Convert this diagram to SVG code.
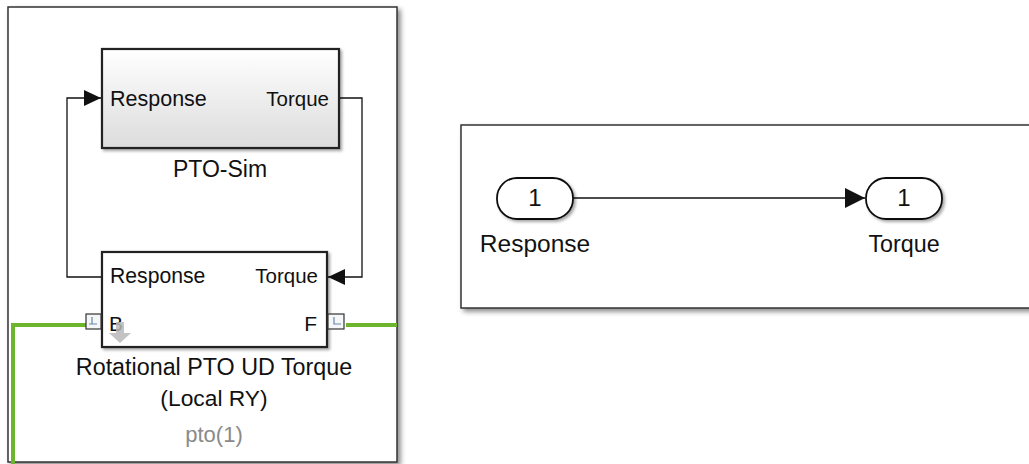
<svg xmlns="http://www.w3.org/2000/svg" width="1029" height="464" viewBox="0 0 1029 464">
<defs>
<style>
text{font-family:"Liberation Sans",Arial,sans-serif;fill:#111}
.panel{fill:#fff;stroke:#333;stroke-width:1.5}
.blk{stroke:#222;stroke-width:2.2}
.wire{fill:none;stroke:#111;stroke-width:1.3}
.green{fill:none;stroke:#6cb52d;stroke-width:4}
.port{fill:#f4f6f8;stroke:#333;stroke-width:1.2}
</style>
<linearGradient id="grad" x1="0" y1="0" x2="0" y2="1">
<stop offset="0" stop-color="#ffffff"/>
<stop offset="1" stop-color="#dcdcdc"/>
</linearGradient>
<filter id="shadow" x="-10%" y="-10%" width="130%" height="130%">
<feDropShadow dx="3" dy="3" stdDeviation="2.5" flood-color="#000" flood-opacity="0.45"/>
</filter>
<filter id="bshadow" x="-10%" y="-10%" width="130%" height="130%">
<feDropShadow dx="2" dy="2" stdDeviation="1.5" flood-color="#000" flood-opacity="0.35"/>
</filter>
<marker id="arrow" viewBox="0 0 10 10" refX="10" refY="5" markerWidth="17" markerHeight="16" markerUnits="userSpaceOnUse" orient="auto" preserveAspectRatio="none">
<path d="M0,0 L10,5 L0,10 Z" fill="#111"/>
</marker>
<marker id="arrowL" viewBox="0 0 10 10" refX="10" refY="5" markerWidth="20" markerHeight="20" markerUnits="userSpaceOnUse" orient="auto" preserveAspectRatio="none">
<path d="M0,0 L10,5 L0,10 Z" fill="#111"/>
</marker>
</defs>
<rect width="1029" height="464" fill="#fff"/>

<g id="left-panel">
<rect class="panel" x="8" y="7" width="389" height="455" filter="url(#shadow)"/>
</g>
<g id="right-panel">
<rect class="panel" x="461" y="125" width="580" height="183" filter="url(#shadow)"/>
</g>

<g id="connectors">
<path class="wire" d="M339,98 H362 V277 H328" marker-end="url(#arrow)"/>
<path class="wire" d="M102,277 H67 V98 H101" marker-end="url(#arrow)"/>
<path class="green" d="M86,325 H13 V464"/>
<path class="green" d="M346,325 H397"/>
<path class="wire" d="M573,198 H865" marker-end="url(#arrowL)"/>
</g>

<g id="pto-sim">
<rect class="blk" x="102" y="49" width="237" height="99" fill="url(#grad)" filter="url(#bshadow)"/>
<text x="110" y="106" font-size="21.5">Response</text>
<text x="329" y="106" font-size="20.5" text-anchor="end">Torque</text>
<text x="220" y="177" font-size="23" text-anchor="middle">PTO-Sim</text>
</g>

<g id="rotational-pto">
<rect class="blk" x="102" y="252" width="225" height="95" fill="#fff" filter="url(#bshadow)"/>
<text x="110" y="283" font-size="21.2">Response</text>
<text x="318" y="283" font-size="20.5" text-anchor="end">Torque</text>
<text x="109" y="331" font-size="21">B</text>
<text x="317" y="331" font-size="21" text-anchor="end">F</text>
<path d="M116,322 H124 V333 H131 L120,343 L109,333 H116 Z" fill="#b8b8b8" opacity="0.85"/>
<rect class="port" x="86" y="314" width="15" height="15"/>
<path d="M92,317 V324 M89,324 H97" stroke="#6a86a8" stroke-width="1.2" fill="none"/>
<rect class="port" x="328" y="314" width="16" height="15"/>
<path d="M334,317 V324 H341" stroke="#6a86a8" stroke-width="1.2" fill="none"/>
<text x="214" y="375" font-size="23.3" text-anchor="middle">Rotational PTO UD Torque</text>
<text x="214" y="406" font-size="22.8" text-anchor="middle">(Local RY)</text>
<text x="214" y="442" font-size="22" text-anchor="middle" style="fill:#8a8a8a">pto(1)</text>
</g>

<g id="inport-response">
<rect x="497" y="178" width="76" height="41" rx="20" ry="20" fill="#fff" stroke="#111" stroke-width="1.8" filter="url(#bshadow)"/>
<text x="535" y="206" font-size="24" text-anchor="middle">1</text>
<text x="535" y="252" font-size="24.5" text-anchor="middle">Response</text>
</g>

<g id="outport-torque">
<rect x="866" y="178" width="76" height="41" rx="20" ry="20" fill="#fff" stroke="#111" stroke-width="1.8" filter="url(#bshadow)"/>
<text x="904" y="206" font-size="24" text-anchor="middle">1</text>
<text x="904" y="252" font-size="23.3" text-anchor="middle">Torque</text>
</g>
</svg>
